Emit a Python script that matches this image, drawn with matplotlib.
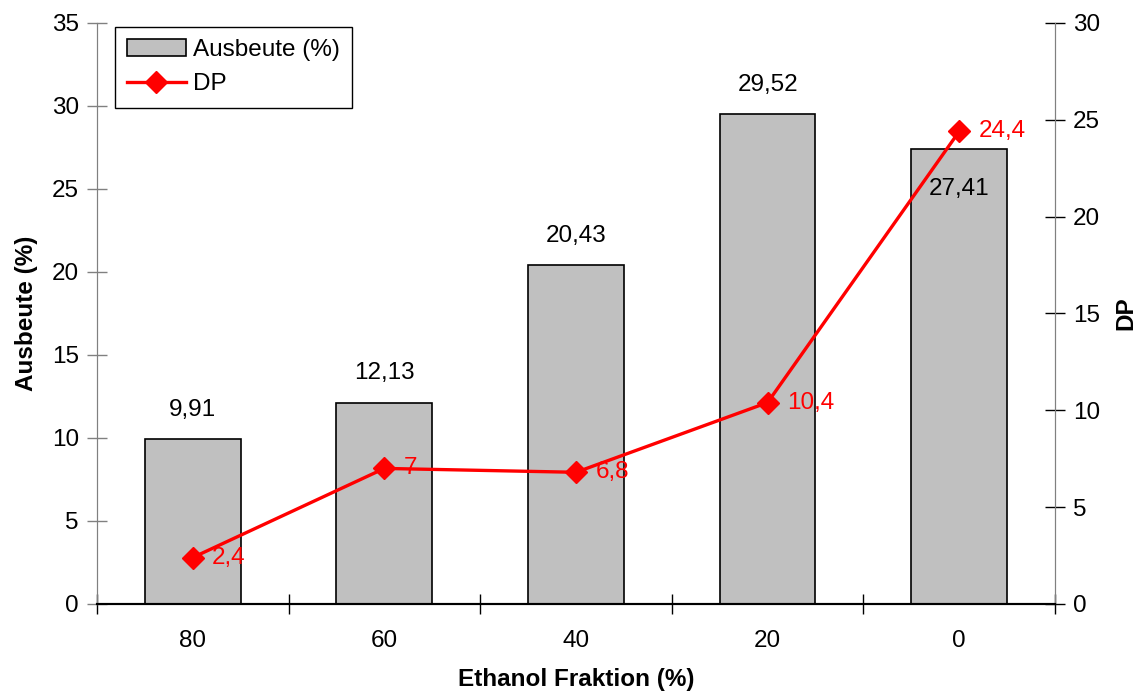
import matplotlib.pyplot as plt

plt.rcParams["font.family"] = ["Liberation Sans", "DejaVu Sans"]
plt.rcParams["font.size"] = 17.5

kategorien = ["80", "60", "40", "20", "0"]
ausbeute = [9.91, 12.13, 20.43, 29.52, 27.41]
dp = [2.4, 7.0, 6.8, 10.4, 24.4]
dp_labels = ["2,4", "7", "6,8", "10,4", "24,4"]


def komma(v):
    return f"{v:.2f}".replace(".", ",")


fig = plt.figure(figsize=(11.42, 6.94), dpi=100)
ax = fig.add_axes([0.0849, 0.1297, 0.8389, 0.8372])
ax2 = ax.twinx()

x = list(range(len(kategorien)))
balken = ax.bar(x, ausbeute, width=0.5, color="#c0c0c0", edgecolor="black",
                linewidth=1.2, label="Ausbeute (%)", zorder=2)
linie, = ax2.plot(x, dp, color="red", linewidth=2.4, marker="D", markersize=11,
                  label="DP", zorder=3)

for i, v in enumerate(ausbeute):
    if i == len(ausbeute) - 1:
        ax.annotate(komma(v), (i, v), xytext=(0, -29), textcoords="offset points",
                    ha="center", va="center", color="black")
    else:
        ax.annotate(komma(v), (i, v), xytext=(0, 21), textcoords="offset points",
                    ha="center", va="center", color="black")

for i, v in enumerate(dp):
    ax2.annotate(dp_labels[i], (i, v), xytext=(14, 0), textcoords="offset points",
                 ha="left", va="center", color="red")

ax.set_xlim(-0.5, len(kategorien) - 0.5)
ax.set_ylim(0, 35)
ax2.set_ylim(0, 30)
ax.set_yticks(range(0, 36, 5))
ax2.set_yticks(range(0, 31, 5))

ax.set_xticks(x)
ax.set_xticklabels(kategorien)
ax.tick_params(axis="x", length=0, pad=19)
ax.set_xticks([i - 0.5 for i in range(len(kategorien) + 1)], minor=True)
ax.tick_params(axis="x", which="minor", length=14, direction="inout", width=1)

ax.tick_params(axis="y", direction="inout", length=14, width=1, color="#808080", pad=6)
ax2.tick_params(axis="y", direction="inout", length=14, width=1, color="black", pad=6)

for a in (ax, ax2):
    a.spines["top"].set_visible(False)
    a.spines["left"].set_color("#808080")
    a.spines["right"].set_color("#808080")
    a.spines["bottom"].set_color("black")
    a.spines["bottom"].set_linewidth(1.5)

ax.set_xlabel("Ethanol Fraktion (%)", fontweight="bold", labelpad=11)
ax.set_ylabel("Ausbeute (%)", fontweight="bold", labelpad=10)
ax2.set_ylabel("DP", fontweight="bold", rotation=90, labelpad=10)

leg = ax.legend([balken, linie], ["Ausbeute (%)", "DP"], loc="upper left",
                bbox_to_anchor=(0.019, 0.993), borderaxespad=0, fancybox=False,
                framealpha=1, edgecolor="black", handlelength=2.4,
                handletextpad=0.3, borderpad=0.5, labelspacing=0.5)
leg.get_frame().set_linewidth(1.0)

fig.savefig("out.png", dpi=100)
